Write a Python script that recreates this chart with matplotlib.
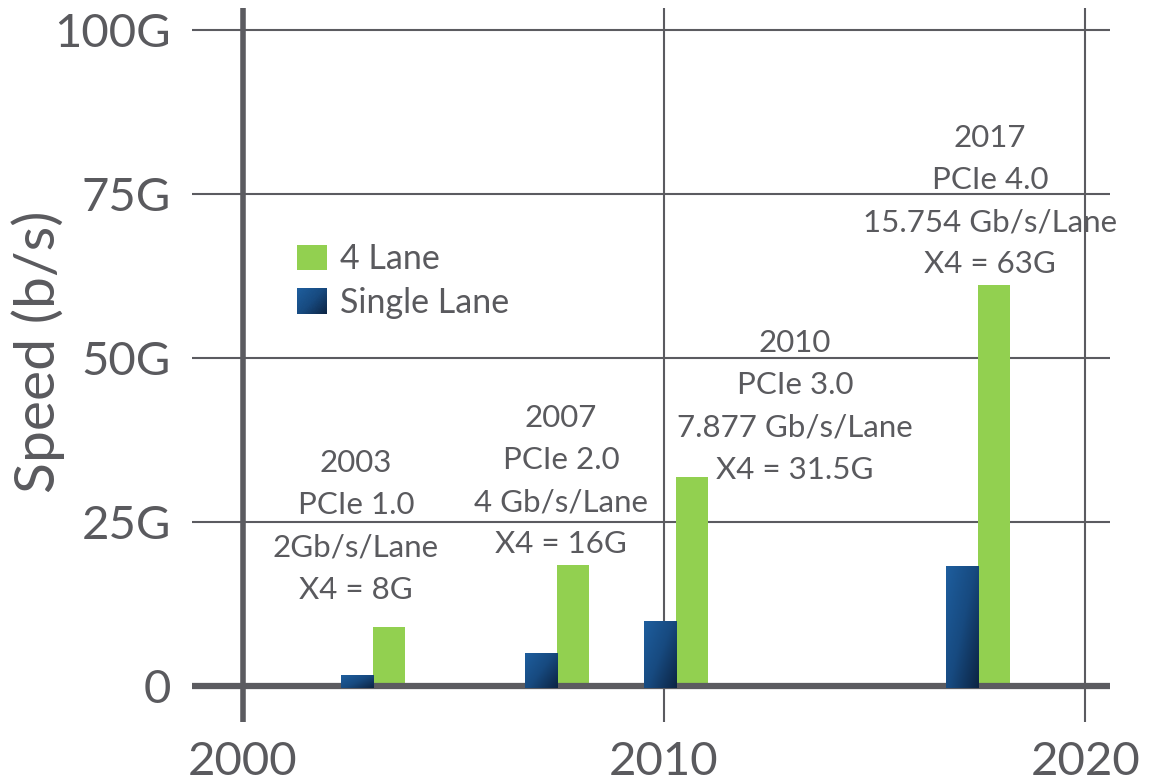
import numpy as np
import matplotlib
matplotlib.use("Agg")
import matplotlib.pyplot as plt
from matplotlib.colors import LinearSegmentedColormap
from matplotlib.patches import Patch
from matplotlib.legend_handler import HandlerBase
from matplotlib.image import BboxImage
from matplotlib.transforms import Bbox, TransformedBbox

# ---------------- data ----------------
generations = ["PCIe 1.0", "PCIe 2.0", "PCIe 3.0", "PCIe 4.0"]
release_years = [2003, 2007, 2010, 2017]
bar_pos = [2003.09, 2007.46, 2010.29, 2017.46]   # plotted centre of each bar pair
single_lane = [1.6, 5.0, 9.9, 18.3]               # G b/s
four_lane = [8.9, 18.4, 31.8, 61.1]               # G b/s
lane_rate = ["2Gb/s/Lane", "4 Gb/s/Lane", "7.877 Gb/s/Lane", "15.754 Gb/s/Lane"]
x4_text = ["X4 = 8G", "X4 = 16G", "X4 = 31.5G", "X4 = 63G"]
yticks = [0, 25, 50, 75, 100]
ytick_labels = ["0", "25G", "50G", "75G", "100G"]
xticks = [2000, 2010, 2020]
xtick_labels = ["2000", "2010", "2020"]
# annotation anchor points (layout)
note_x = [2002.68, 2007.55, 2013.11, 2017.74]
note_y = [24.3, 31.2, 42.6, 73.9]

# ---------------- style ----------------
plt.rcParams["font.family"] = ["Lato", "DejaVu Sans"]
TXT = "#5a5a5e"
LINE = "#5b5b60"
GREEN = "#92d050"
blue_cmap = LinearSegmentedColormap.from_list("bl", ["#1e5e9e", "#174a80", "#0c2443"])
n = 64
U, V = np.meshgrid(np.linspace(0, 1, n), np.linspace(0, 1, n))
grad = (U * 0.55 + V * 0.45)

fig = plt.figure(figsize=(11.57, 7.84), dpi=100)
ax = fig.add_axes([192 / 1157, (784 - 722) / 784, 918 / 1157, 714 / 784])
XL = (1998.79, 2020.59)
YL = (-5.54, 103.35)

for s in ax.spines.values():
    s.set_visible(False)

# grid lines
for yv in yticks[1:]:
    ax.axhline(yv, color=LINE, lw=1.5, zorder=1)
for xv in xticks:
    ax.axvline(xv, color=LINE, lw=4.0 if xv == xticks[0] else 1.5, zorder=1)
ax.axhline(0, color=LINE, lw=4.5, zorder=3)

w = 0.76
xs = np.array(bar_pos)
green_bars = ax.bar(xs + w / 2, four_lane, width=w, color=GREEN, zorder=2, label="4 Lane")
blue_bars = ax.bar(xs - w / 2, np.array(single_lane) + 0.35, bottom=-0.35, width=w,
                   facecolor="none", edgecolor="none", zorder=4)
for p in blue_bars.patches:
    x0, y0 = p.get_x(), p.get_y()
    im = ax.imshow(grad, extent=[x0, x0 + p.get_width(), y0, y0 + p.get_height()],
                   aspect="auto", cmap=blue_cmap, vmin=0, vmax=1,
                   interpolation="bicubic", zorder=4)
    im.set_clip_path(p)

# annotations
for i in range(len(release_years)):
    txt = f"{release_years[i]}\n{generations[i]}\n{lane_rate[i]}\n{x4_text[i]}"
    ax.text(note_x[i], note_y[i], txt, ha="center", va="center", fontsize=22.5,
            color=TXT, linespacing=1.62, zorder=5)

ax.set_xlim(*XL)
ax.set_ylim(*YL)
ax.set_xticks(xticks)
ax.set_xticklabels(xtick_labels)
ax.set_yticks(yticks)
ax.set_yticklabels(ytick_labels)
ax.tick_params(axis="both", length=0, labelsize=34, labelcolor=TXT)
ax.tick_params(axis="x", pad=14)
ax.tick_params(axis="y", pad=15)

ax.set_ylabel("Speed (b/s)", fontsize=41, color=TXT, va="center")
ax.yaxis.set_label_coords((38 - 192) / 918, (722 - 352) / 714)


class GradientHandler(HandlerBase):
    def create_artists(self, legend, orig_handle, xdescent, ydescent, width, height,
                       fontsize, trans):
        bb = TransformedBbox(Bbox.from_bounds(-xdescent, -ydescent, width, height), trans)
        img = BboxImage(bb, cmap=blue_cmap, norm=plt.Normalize(0, 1), interpolation="bicubic")
        img.set_data(grad)
        return [img]


blue_proxy = Patch(facecolor="#174a80", label="Single Lane")
green_proxy = Patch(facecolor=GREEN, label="4 Lane")
leg = ax.legend(handles=[green_proxy, blue_proxy], handler_map={blue_proxy: GradientHandler()},
                loc="upper left", bbox_to_anchor=(297 / 1157, 1 - 243 / 784),
                bbox_transform=fig.transFigure, frameon=False, fontsize=24.5,
                handlelength=0.88, handleheight=0.76, handletextpad=0.38,
                labelspacing=0.35, borderpad=0, borderaxespad=0)
for t in leg.get_texts():
    t.set_color(TXT)

fig.savefig("out.png", dpi=100)
